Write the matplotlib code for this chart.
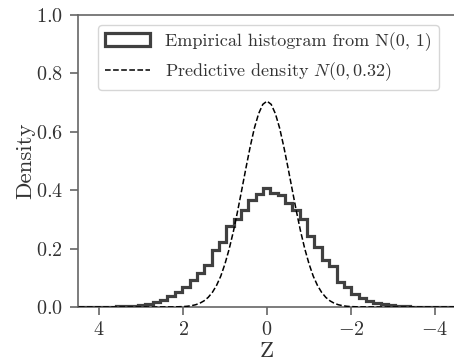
import numpy as np
import matplotlib
matplotlib.use("Agg")
import matplotlib.pyplot as plt
from matplotlib.patches import Patch
from matplotlib.lines import Line2D

plt.rcParams['font.family'] = 'serif'
plt.rcParams['font.serif'] = ['cmr10']
plt.rcParams['mathtext.fontset'] = 'cm'
plt.rcParams['axes.formatter.use_mathtext'] = True
plt.rcParams['axes.unicode_minus'] = True

# Histogram bin edges (bin width ~0.175)
bin_start, bin_width, n_bins = -4.63, 0.175, 53
# Heights, negative side (outer -> centre), peak, positive side (centre -> outer)
neg_side = [0.0001, 0.0001, 0.0002, 0.0003, 0.0005, 0.001, 0.0015, 0.002, 0.004, 0.006, 0.009,
            0.014, 0.022, 0.032, 0.046, 0.068, 0.085, 0.140, 0.160, 0.204, 0.242,
            0.300, 0.333, 0.355, 0.384, 0.392]
peak = [0.408]
pos_side = [0.388, 0.365, 0.333, 0.301, 0.276, 0.224, 0.196, 0.144, 0.116, 0.093,
            0.070, 0.050, 0.036, 0.025, 0.017, 0.011, 0.007, 0.004, 0.003, 0.002,
            0.001, 0.0005, 0.0003, 0.0001, 0.0001, 0.0001]
hist_heights = neg_side + peak + pos_side

# Predictive density curve
dens_x = [-4.5, -3.0, -2.6, -2.2, -2.0, -1.9, -1.8, -1.7, -1.6, -1.5, -1.4, -1.3, -1.2, -1.1,
          -1.0, -0.9, -0.8, -0.7, -0.6, -0.5, -0.4, -0.3, -0.2, -0.1, 0.0,
          0.1, 0.2, 0.3, 0.4, 0.5, 0.6, 0.7, 0.8, 0.9, 1.0, 1.1, 1.2, 1.3, 1.4,
          1.5, 1.6, 1.7, 1.8, 1.9, 2.0, 2.2, 2.6, 3.0, 4.5]
dens_y = [0.0, 0.0, 0.0001, 0.0004, 0.0014, 0.0025, 0.0045, 0.0077, 0.0129, 0.021, 0.033, 0.0503, 0.0743, 0.106,
          0.148, 0.199, 0.259, 0.328, 0.402, 0.477, 0.549, 0.613, 0.662, 0.694, 0.705,
          0.694, 0.662, 0.613, 0.549, 0.477, 0.402, 0.328, 0.259, 0.199, 0.148, 0.106, 0.0743, 0.0503, 0.033,
          0.021, 0.0129, 0.0077, 0.0045, 0.0025, 0.0014, 0.0004, 0.0001, 0.0, 0.0]

yticks = [0.0, 0.2, 0.4, 0.6, 0.8, 1.0]
xticks = [4, 2, 0, -2, -4]

edges = bin_start + bin_width * np.arange(n_bins + 1)

hist_color = '#404040'
fig = plt.figure(figsize=(4.54, 3.63), dpi=100)
ax = fig.add_axes([78/454, 56/363, 378/454, 292/363])

ax.stairs(hist_heights, edges, color=hist_color, linewidth=2.3, zorder=3)
ax.plot(dens_x, dens_y, color='black', linestyle='--', linewidth=1.1, zorder=4)

ax.set_xlim(4.5, -4.5)
ax.set_ylim(0, 1.0)
ax.set_xticks(xticks)
ax.set_yticks(yticks)
ax.set_xlabel('Z', fontsize=16.5, labelpad=2, color='#333333')
ax.set_ylabel('Density', fontsize=16.5, labelpad=0, color='#333333')
ax.tick_params(axis='both', labelsize=14.5, length=6, width=1.2, color='#666666',
               labelcolor='#333333')
ax.tick_params(axis='y', pad=5)
ax.tick_params(axis='x', pad=4)
for s in ['left', 'bottom', 'top', 'right']:
    ax.spines[s].set_color('#666666')
    ax.spines[s].set_linewidth(1.2)

handles = [Patch(facecolor='none', edgecolor=hist_color, linewidth=2.3),
           Line2D([], [], color='black', linestyle='--', linewidth=1.1)]
labels = ['Empirical histogram from N(0, 1)', r'Predictive density $N(0, 0.32)$']
leg = ax.legend(handles, labels, loc='upper left', bbox_to_anchor=(98/454, 1 - 25/363),
                bbox_transform=fig.transFigure, borderaxespad=0, fontsize=13,
                handlelength=2.5, handletextpad=0.8, labelspacing=0.5,
                frameon=True, fancybox=True, framealpha=0.8, edgecolor='#cccccc',
                labelcolor='#333333')

fig.savefig('out.png', dpi=100)
